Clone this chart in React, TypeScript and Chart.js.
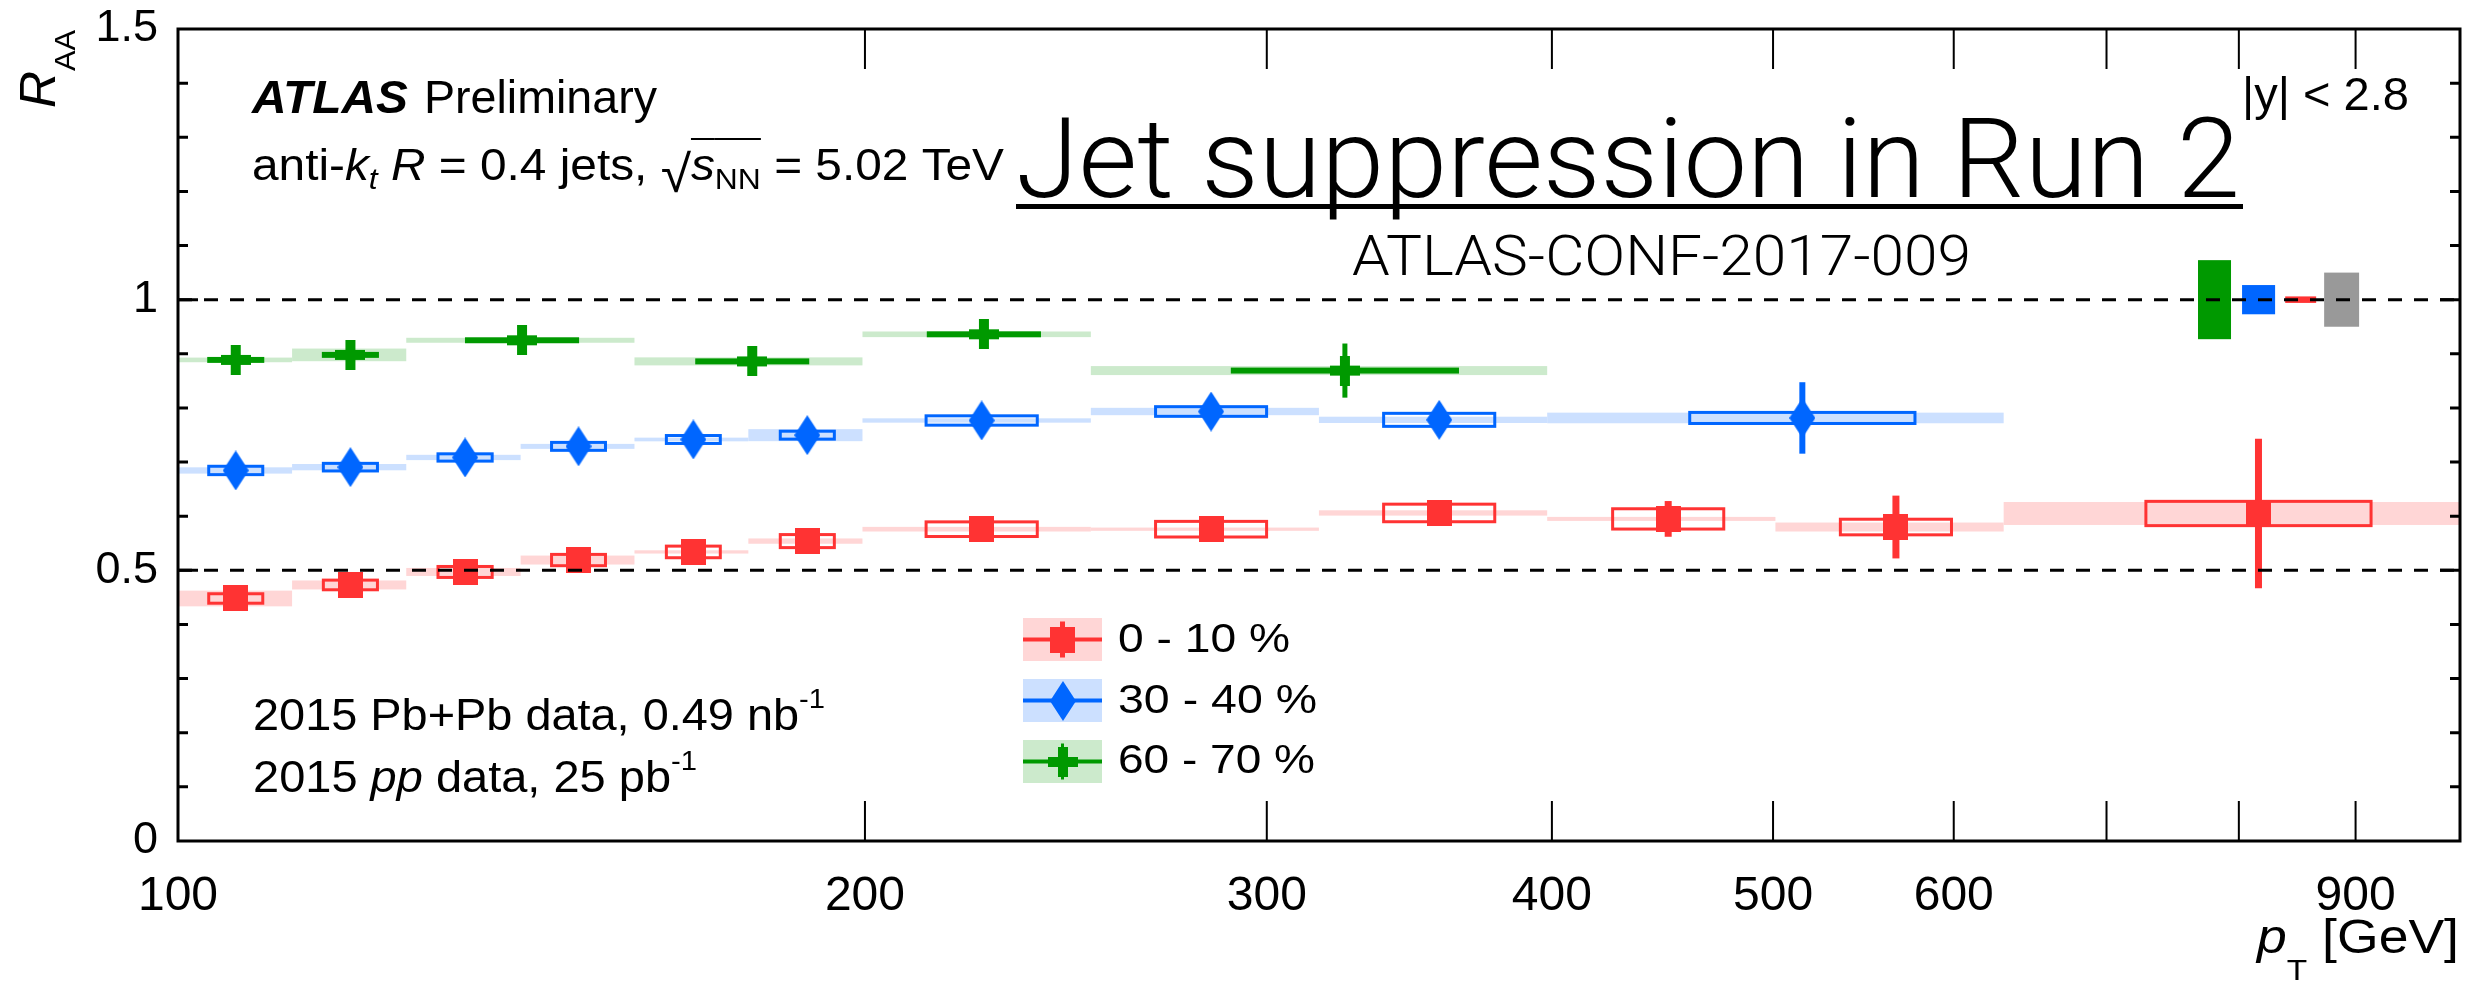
import React, { useEffect, useRef } from "react";
import { Chart, registerables } from "chart.js";

Chart.register(...registerables);

const FONT = '"Liberation Sans", Arial, Helvetica, sans-serif';
const LIGHT_FONT = 'Roboto, "Liberation Sans", Arial, sans-serif';

// ---------- axes ----------
const X_MIN = 100;
const X_MAX = 1000;
const Y_MIN = 0;
const Y_MAX = 1.5;
const X_TICKS = [100, 200, 300, 400, 500, 600, 700, 800, 900];
const X_TICK_LABELS = ["100", "200", "300", "400", "500", "600", "", "", "900"];
const Y_LABEL_TICKS = [0, 0.5, 1, 1.5];
const Y_LABELS = ["0", "0.5", "1", "1.5"];
const Y_MINOR_STEP = 0.1;
const REF_LINES = [0.5, 1];

// ---------- 0 - 10 % ----------
const RED_EDGES = [100, 112.2, 125.9, 141.3, 158.5, 177.8, 199.5, 251.2, 316.2, 398.1, 501.2, 631, 1000];
const RED_X = [106, 119, 133.6, 149.8, 168.2, 188.7, 225, 283.6, 357, 449.8, 566, 816];
const RED_Y = [0.448, 0.473, 0.497, 0.519, 0.534, 0.554, 0.576, 0.576, 0.606, 0.595, 0.58, 0.605];
const RED_STAT = [0.01, 0.01, 0.01, 0.01, 0.01, 0.012, 0.015, 0.015, 0.02, 0.033, 0.058, 0.138];
const RED_UNCORR = [0.0115, 0.0117, 0.0129, 0.0132, 0.0135, 0.0148, 0.0163, 0.0172, 0.019, 0.0215, 0.0172, 0.0252];
const RED_CORR = [0.0145, 0.0083, 0.0074, 0.0083, 0.003, 0.0049, 0.0043, 0.003, 0.0049, 0.0037, 0.0083, 0.0212];

// ---------- 30 - 40 % ----------
const BLUE_EDGES = [100, 112.2, 125.9, 141.3, 158.5, 177.8, 199.5, 251.2, 316.2, 398.1, 631];
const BLUE_X = [106, 119, 133.6, 149.8, 168.2, 188.7, 225, 283.6, 357, 515];
const BLUE_Y = [0.6845, 0.6906, 0.7085, 0.729, 0.7417, 0.7497, 0.7768, 0.7934, 0.778, 0.7815];
const BLUE_STAT = [0.01, 0.01, 0.01, 0.012, 0.012, 0.012, 0.015, 0.02, 0.025, 0.066];
const BLUE_UNCORR = [0.0105, 0.0098, 0.0095, 0.0101, 0.0101, 0.0101, 0.0114, 0.0117, 0.0148, 0.013];
const BLUE_CORR = [0.0058, 0.0058, 0.0049, 0.0046, 0.0034, 0.0111, 0.004, 0.0068, 0.0058, 0.0098];

// ---------- 60 - 70 % ----------
const GREEN_EDGES = [100, 112.2, 125.9, 158.5, 199.5, 251.2, 398.1];
const GREEN_X = [106, 119, 141.5, 178.5, 225.5, 324.6];
const GREEN_Y = [0.8887, 0.898, 0.925, 0.886, 0.936, 0.869];
const GREEN_STAT = [0.02, 0.02, 0.02, 0.02, 0.025, 0.05];
const GREEN_UNCORR = [0.0055, 0.0055, 0.0055, 0.0055, 0.0055, 0.0055];
const GREEN_CORR = [0.0043, 0.0117, 0.0046, 0.0074, 0.0052, 0.0083];

// ---------- normalisation uncertainties (around 1) ----------
const NORM_LO = [767.7, 802.6, 838.3, 871.9];
const NORM_HI = [793.7, 829.8, 864.9, 903.2];
const NORM_HALF = [0.073, 0.027, 0.006, 0.05];

const LEGEND_LABELS = ["0 - 10 %", "30 - 40 %", "60 - 70 %"];

const C_RED = "#ff3333";
const C_BLUE = "#0066ff";
const C_GREEN = "#009900";
const C_GRAY = "#999999";
const NORM_COLORS = [C_GREEN, C_BLUE, C_RED, C_GRAY];

const SERIES = [
  { name: LEGEND_LABELS[0], edges: RED_EDGES, x: RED_X, y: RED_Y, stat: RED_STAT, unc: RED_UNCORR, cor: RED_CORR, color: C_RED, band: "#ffd6d6", marker: "square", statW: 7 },
  { name: LEGEND_LABELS[1], edges: BLUE_EDGES, x: BLUE_X, y: BLUE_Y, stat: BLUE_STAT, unc: BLUE_UNCORR, cor: BLUE_CORR, color: C_BLUE, band: "#cce0ff", marker: "diamond", statW: 6 },
  { name: LEGEND_LABELS[2], edges: GREEN_EDGES, x: GREEN_X, y: GREEN_Y, stat: GREEN_STAT, unc: GREEN_UNCORR, cor: GREEN_CORR, color: C_GREEN, band: "#cceacc", marker: "cross", statW: 5 },
];

function makeMarker(kind: string, color: string): HTMLCanvasElement {
  const c = document.createElement("canvas");
  const g = c.getContext("2d") as CanvasRenderingContext2D;
  if (kind === "square") {
    c.width = 25; c.height = 26;
    g.fillStyle = color; g.fillRect(0, 0, 25, 26);
  } else if (kind === "diamond") {
    c.width = 26; c.height = 40;
    g.fillStyle = color;
    g.beginPath(); g.moveTo(13, 0); g.lineTo(26, 20); g.lineTo(13, 40); g.lineTo(0, 20); g.closePath(); g.fill();
  } else {
    c.width = 30; c.height = 30;
    g.fillStyle = color;
    g.fillRect(10, 0, 10, 30); g.fillRect(0, 10, 30, 10);
  }
  return c;
}

type Part = { t: string; f: string; dy?: number; ol?: number };

function drawParts(ctx: CanvasRenderingContext2D, parts: Part[], x: number, y: number, target?: number, align: string = "left") {
  ctx.save();
  const ws = parts.map((p) => { ctx.font = p.f; return ctx.measureText(p.t).width; });
  const tot = ws.reduce((a, b) => a + b, 0);
  const sx = target ? target / tot : 1;
  const x0 = align === "right" ? x - tot * sx : x;
  ctx.translate(x0, y);
  ctx.scale(sx, 1);
  ctx.textAlign = "left";
  ctx.textBaseline = "alphabetic";
  ctx.fillStyle = "#000";
  let cx = 0;
  parts.forEach((p, i) => {
    ctx.font = p.f;
    ctx.fillText(p.t, cx, p.dy || 0);
    if (p.ol !== undefined) ctx.fillRect(cx, p.ol, ws[i], 2);
    cx += ws[i];
  });
  ctx.restore();
}

const f = (size: number, style = "", weight = "", fam = FONT) => `${style} ${weight} ${size}px ${fam}`.trim();

export default function App() {
  const ref = useRef<HTMLCanvasElement | null>(null);

  useEffect(() => {
    document.body.style.margin = "0";
    document.body.style.overflow = "hidden";
    const canvas = ref.current;
    if (!canvas) return;
    const markers = SERIES.map((s) => makeMarker(s.marker, s.color));

    const plugin: any = {
      id: "atlasDecor",
      beforeDatasetsDraw(chart: any) {
        const { ctx, chartArea: a, scales } = chart;
        const xs = scales.x;
        const ys = scales.y;
        ctx.save();
        ctx.beginPath();
        ctx.rect(a.left, a.top, a.right - a.left, a.bottom - a.top);
        ctx.clip();
        NORM_LO.forEach((lo, i) => {
          const x0 = xs.getPixelForValue(lo);
          const x1 = xs.getPixelForValue(NORM_HI[i]);
          const y0 = ys.getPixelForValue(1 + NORM_HALF[i]);
          const y1 = ys.getPixelForValue(1 - NORM_HALF[i]);
          ctx.fillStyle = NORM_COLORS[i];
          ctx.fillRect(x0, y0, x1 - x0, y1 - y0);
        });
        SERIES.forEach((s) => {
          ctx.fillStyle = s.band;
          s.y.forEach((v, i) => {
            const x0 = xs.getPixelForValue(s.edges[i]);
            const x1 = xs.getPixelForValue(s.edges[i + 1]);
            const y0 = ys.getPixelForValue(v + s.cor[i]);
            const y1 = ys.getPixelForValue(v - s.cor[i]);
            ctx.fillRect(x0, y0, x1 - x0, y1 - y0);
          });
        });
        SERIES.forEach((s) => {
          ctx.strokeStyle = s.color;
          ctx.lineWidth = 3;
          s.y.forEach((v, i) => {
            const w = Math.log10(s.edges[i + 1] / s.edges[i]) / 4;
            const x0 = xs.getPixelForValue(s.x[i] * Math.pow(10, -w)) + 1.5;
            const x1 = xs.getPixelForValue(s.x[i] * Math.pow(10, w)) - 1.5;
            const y0 = ys.getPixelForValue(v + s.unc[i]) + 1.5;
            const y1 = ys.getPixelForValue(v - s.unc[i]) - 1.5;
            ctx.strokeRect(x0, y0, x1 - x0, y1 - y0);
          });
        });
        SERIES.forEach((s) => {
          ctx.strokeStyle = s.color;
          ctx.lineWidth = s.statW;
          s.y.forEach((v, i) => {
            const px = xs.getPixelForValue(s.x[i]);
            ctx.beginPath();
            ctx.moveTo(px, ys.getPixelForValue(v + s.stat[i]));
            ctx.lineTo(px, ys.getPixelForValue(v - s.stat[i]));
            ctx.stroke();
          });
        });
        ctx.restore();
      },
      afterDatasetsDraw(chart: any) {
        const { ctx, chartArea: a, scales } = chart;
        const xs = scales.x;
        const ys = scales.y;
        ctx.save();
        ctx.strokeStyle = "#000";
        ctx.lineWidth = 3;
        ctx.setLineDash([14, 12]);
        REF_LINES.forEach((v) => {
          const py = ys.getPixelForValue(v);
          ctx.beginPath(); ctx.moveTo(a.left, py); ctx.lineTo(a.right, py); ctx.stroke();
        });
        ctx.setLineDash([]);
        ctx.lineWidth = 3;
        const nMinor = Math.round((Y_MAX - Y_MIN) / Y_MINOR_STEP);
        for (let k = 1; k < nMinor; k++) {
          const v = Y_MIN + k * Y_MINOR_STEP;
          const major = Math.abs(v * 2 - Math.round(v * 2)) < 1e-6;
          const len = major ? 20 : 10;
          const py = ys.getPixelForValue(v);
          ctx.beginPath();
          ctx.moveTo(a.left, py); ctx.lineTo(a.left + len, py);
          ctx.moveTo(a.right, py); ctx.lineTo(a.right - len, py);
          ctx.stroke();
        }
        ctx.lineWidth = 2;
        X_TICKS.forEach((v) => {
          if (v <= X_MIN) return;
          const px = xs.getPixelForValue(v);
          ctx.beginPath();
          ctx.moveTo(px, a.bottom); ctx.lineTo(px, a.bottom - 40);
          ctx.moveTo(px, a.top); ctx.lineTo(px, a.top + 40);
          ctx.stroke();
        });
        ctx.lineWidth = 3;
        ctx.strokeRect(a.left, a.top, a.right - a.left, a.bottom - a.top);
        ctx.restore();
      },
      afterDraw(chart: any) {
        const { ctx } = chart;
        ctx.save();
        ctx.save();
        ctx.translate(55, 108);
        ctx.rotate(-Math.PI / 2);
        drawParts(ctx, [{ t: "R", f: f(50, "italic") }, { t: "AA", f: f(30), dy: 20 }], 0, 0, 78);
        ctx.restore();
        drawParts(ctx, [{ t: "p", f: f(48, "italic") }, { t: "T", f: f(30), dy: 27 }, { t: " [GeV]", f: f(48) }], 2459, 953, 202, "right");
        drawParts(ctx, [{ t: "ATLAS", f: f(46, "italic", "bold") }], 252, 113, 156);
        drawParts(ctx, [{ t: "Preliminary", f: f(46) }], 424, 113, 233);
        drawParts(ctx, [
          { t: "anti-", f: f(45) },
          { t: "k", f: f(45, "italic") },
          { t: "t", f: f(30, "italic"), dy: 9 },
          { t: " ", f: f(45) },
          { t: "R", f: f(45, "italic") },
          { t: " = 0.4 jets, ", f: f(45) },
          { t: "\u221A", f: f(52), dy: 12 },
          { t: "s", f: f(45, "italic"), ol: -42 },
          { t: "NN", f: f(30), dy: 9, ol: -42 },
          { t: " = 5.02 TeV", f: f(45) },
        ], 252, 180, 752);
        drawParts(ctx, [{ t: "Jet suppression in Run 2", f: f(111, "", "300", LIGHT_FONT) }], 1016, 197, 1224);
        ctx.fillStyle = "#000";
        ctx.fillRect(1016, 204, 1227, 5);
        drawParts(ctx, [{ t: "ATLAS-CONF-2017-009", f: f(56, "", "300", LIGHT_FONT) }], 1352, 275, 619);
        drawParts(ctx, [{ t: "|y| < 2.8", f: f(46) }], 2242, 110, 167);
        drawParts(ctx, [{ t: "2015 Pb+Pb data, 0.49 nb", f: f(45) }, { t: "-1", f: f(28), dy: -22 }], 253, 730, 572);
        drawParts(ctx, [{ t: "2015 ", f: f(45) }, { t: "pp", f: f(45, "italic") }, { t: " data, 25 pb", f: f(45) }, { t: "-1", f: f(28), dy: -22 }], 253, 792, 444);
        const rows = [639.5, 700.5, 761.5];
        const baselines = [652, 713, 773];
        const widths = [172, 199, 197];
        SERIES.forEach((s, k) => {
          const cy = rows[k];
          ctx.fillStyle = s.band;
          ctx.fillRect(1023, cy - 21.5, 79, 43);
          ctx.fillStyle = s.color;
          ctx.fillRect(1023, cy - 2, 79, 4);
          if (k !== 1) ctx.fillRect(1062.5 - s.statW / 2 + 1, cy - 18, s.statW - 2, 36);
          const m = markers[k];
          ctx.drawImage(m, Math.round(1062.5 - m.width / 2), Math.round(cy - m.height / 2));
          drawParts(ctx, [{ t: s.name, f: f(40) }], 1118, baselines[k], widths[k]);
        });
        ctx.restore();
      },
    };

    const chart = new Chart(canvas, {
      type: "scatter",
      data: {
        datasets: SERIES.map((s, k) => ({
          label: s.name,
          data: s.x.map((x, i) => ({ x, y: s.y[i] })),
          pointStyle: markers[k] as any,
          pointRadius: 14,
          pointHoverRadius: 14,
          showLine: false,
          backgroundColor: s.color,
          borderColor: s.color,
        })),
      },
      options: {
        animation: false,
        responsive: false,
        events: [],
        layout: { padding: { left: 0, right: 30, top: 29, bottom: 0 } },
        plugins: { legend: { display: false }, tooltip: { enabled: false } },
        scales: {
          x: {
            type: "logarithmic",
            min: X_MIN,
            max: X_MAX,
            grid: { display: false, drawTicks: false },
            border: { display: false },
            afterBuildTicks: (sc: any) => { sc.ticks = X_TICKS.map((v) => ({ value: v })); },
            afterFit: (sc: any) => { sc.height = 142; },
            ticks: {
              autoSkip: false,
              maxRotation: 0,
              minRotation: 0,
              padding: 27,
              color: "#000",
              font: { family: FONT, size: 48 },
              callback: (v: any) => {
                const i = X_TICKS.indexOf(Number(v));
                return i >= 0 ? X_TICK_LABELS[i] : "";
              },
            },
          },
          y: {
            type: "linear",
            min: Y_MIN,
            max: Y_MAX,
            grid: { display: false, drawTicks: false },
            border: { display: false },
            afterBuildTicks: (sc: any) => { sc.ticks = Y_LABEL_TICKS.map((v) => ({ value: v })); },
            afterFit: (sc: any) => { sc.width = 178; },
            ticks: {
              autoSkip: false,
              padding: 20,
              color: "#000",
              font: { family: FONT, size: 45, lineHeight: 0.2 },
              callback: (v: any) => {
                const i = Y_LABEL_TICKS.findIndex((t) => Math.abs(t - Number(v)) < 1e-9);
                return i >= 0 ? Y_LABELS[i] : "";
              },
            },
          },
        },
      } as any,
      plugins: [plugin],
    });
    return () => chart.destroy();
  }, []);

  return (
    <div style={{ width: 2490, height: 983 }}>
      <canvas ref={ref} width={2490} height={983} style={{ display: "block" }} />
    </div>
  );
}
